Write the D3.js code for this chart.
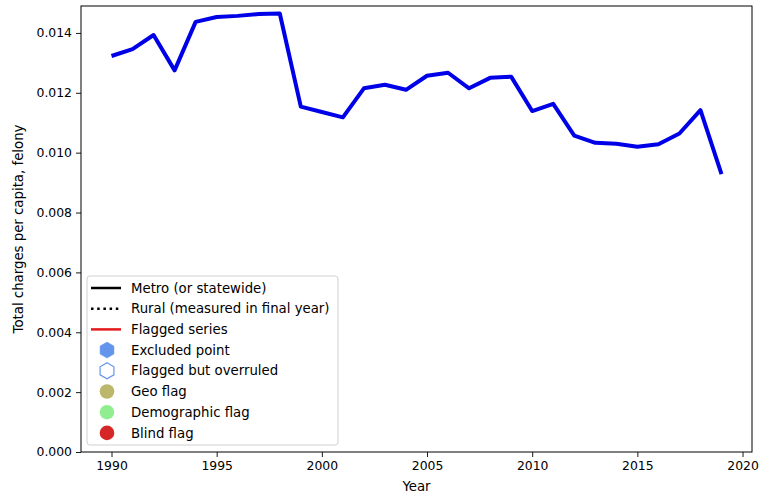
<!DOCTYPE html>
<html>
<head>
<meta charset="utf-8">
<script src="https://cdn.jsdelivr.net/npm/d3@7"></script>
<style>
  html, body { margin: 0; padding: 0; background: #fff; }
  svg { display: block; font-family: "DejaVu Sans", sans-serif; }
</style>
</head>
<body>
<svg id="chart" width="763" height="493"></svg>
<script>
// Felony charges per capita, 1990–2019
const years = [1990, 1991, 1992, 1993, 1994, 1995, 1996, 1997, 1998, 1999,
               2000, 2001, 2002, 2003, 2004, 2005, 2006, 2007, 2008, 2009,
               2010, 2011, 2012, 2013, 2014, 2015, 2016, 2017, 2018, 2019];
const chargesPerCapita = [0.01323, 0.01346, 0.01393, 0.01275, 0.01437, 0.01453, 0.01457, 0.01463, 0.01465, 0.01154,
                          0.01136, 0.01118, 0.01215, 0.01227, 0.01210, 0.01257, 0.01267, 0.01215, 0.01250, 0.01254,
                          0.01139, 0.01163, 0.01057, 0.01033, 0.01030, 0.01020, 0.01028, 0.01064, 0.01142, 0.00928];
const xTicks = [1990, 1995, 2000, 2005, 2010, 2015, 2020];
const yTicks = [0.000, 0.002, 0.004, 0.006, 0.008, 0.010, 0.012, 0.014];
const legendLabels = ["Metro (or statewide)", "Rural (measured in final year)", "Flagged series",
                      "Excluded point", "Flagged but overruled", "Geo flag", "Demographic flag", "Blind flag"];
const legendKinds = ["solid", "dotted", "red", "hexFill", "hexOpen", "geo", "demo", "blind"];

const svg = d3.select("#chart");
const margin = { left: 81, right: 11, top: 6, bottom: 41 };
const W = 763, H = 493;
const x0 = margin.left, x1 = W - margin.right, y0 = margin.top, y1 = H - margin.bottom;

const xPad = (d3.max(years) - d3.min(years)) * 0.05;
const x = d3.scaleLinear()
  .domain([d3.min(years) - xPad, d3.max(years) + xPad])
  .range([x0, x1]);
const y = d3.scaleLinear()
  .domain([0, 0.0149])
  .range([y1, y0]);

// axes
const xAxis = svg.append("g")
  .attr("transform", `translate(0,${y1})`)
  .call(d3.axisBottom(x).tickValues(xTicks).tickFormat(d3.format("d")).tickSize(5).tickPadding(4));
const yAxis = svg.append("g")
  .attr("transform", `translate(${x0},0)`)
  .call(d3.axisLeft(y).tickValues(yTicks).tickFormat(d3.format(".3f")).tickSize(5).tickPadding(4));
[xAxis, yAxis].forEach(g => {
  g.select(".domain").remove();
  g.selectAll("text").attr("font-size", 12.4).attr("fill", "#000").attr("font-family", "DejaVu Sans, sans-serif");
  g.selectAll("line").attr("stroke", "#000").attr("stroke-width", 0.9);
});

// frame
svg.append("rect")
  .attr("x", x0).attr("y", y0)
  .attr("width", x1 - x0).attr("height", y1 - y0)
  .attr("fill", "none").attr("stroke", "#000").attr("stroke-width", 1);

// series line
const line = d3.line().x((d, i) => x(years[i])).y(d => y(d));
svg.append("path")
  .datum(chargesPerCapita)
  .attr("d", line)
  .attr("fill", "none")
  .attr("stroke", "#0000e8")
  .attr("stroke-width", 4)
  .attr("stroke-linejoin", "round");

// axis titles
svg.append("text")
  .attr("x", (x0 + x1) / 2).attr("y", 491)
  .attr("text-anchor", "middle").attr("font-size", 13.3)
  .text("Year");
svg.append("text")
  .attr("transform", `translate(23,${(y0 + y1) / 2}) rotate(-90)`)
  .attr("text-anchor", "middle").attr("font-size", 13.3)
  .text("Total charges per capita, felony");

// legend
const lg = svg.append("g").attr("transform", "translate(87,276)");
lg.append("rect")
  .attr("x", 0).attr("y", 0).attr("width", 251).attr("height", 169)
  .attr("rx", 3).attr("fill", "#fff").attr("fill-opacity", 0.85)
  .attr("stroke", "#d0d0d0").attr("stroke-width", 1);

const hexPath = r => {
  const pts = d3.range(6).map(k => {
    const a = -Math.PI / 2 + k * Math.PI / 3;
    return [r * Math.cos(a), r * Math.sin(a)];
  });
  return "M" + pts.map(p => p.join(",")).join("L") + "Z";
};

legendLabels.forEach((lab, i) => {
  const cy = 12 + i * 20.7;
  const g = lg.append("g").attr("transform", `translate(0,${cy})`);
  const kind = legendKinds[i];
  if (kind === "solid" || kind === "dotted" || kind === "red") {
    g.append("line").attr("x1", 4).attr("x2", 34).attr("y1", 0).attr("y2", 0)
      .attr("stroke", kind === "red" ? "#e41a1c" : "#000")
      .attr("stroke-width", 2.5)
      .attr("stroke-dasharray", kind === "dotted" ? "2.5,3.7" : null);
  } else if (kind === "hexFill" || kind === "hexOpen") {
    g.append("path").attr("d", hexPath(8)).attr("transform", "translate(20,0)")
      .attr("fill", kind === "hexFill" ? "#6495ed" : "#fff")
      .attr("stroke", "#6495ed").attr("stroke-width", kind === "hexFill" ? 0.5 : 1.2);
  } else {
    const col = { geo: "#bdb76b", demo: "#90ee90", blind: "#d62728" }[kind];
    g.append("circle").attr("cx", 20).attr("cy", 0).attr("r", 7.3).attr("fill", col);
  }
  g.append("text").attr("x", 44).attr("y", 0).attr("dy", "0.35em")
    .attr("font-size", 13.3).text(lab);
});
</script>
</body>
</html>
